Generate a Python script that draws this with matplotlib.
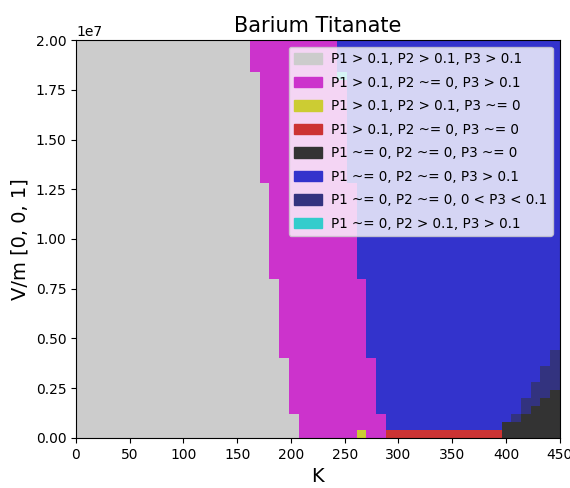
import numpy as np
import matplotlib
matplotlib.use('Agg')
import matplotlib.pyplot as plt
from matplotlib.colors import ListedColormap
from matplotlib.patches import Patch

# phase labels and colours, in index order
labels = ['P1 > 0.1, P2 > 0.1, P3 > 0.1',
          'P1 > 0.1, P2 ~= 0, P3 > 0.1',
          'P1 > 0.1, P2 > 0.1, P3 ~= 0',
          'P1 > 0.1, P2 ~= 0, P3 ~= 0',
          'P1 ~= 0, P2 ~= 0, P3 ~= 0',
          'P1 ~= 0, P2 ~= 0, P3 > 0.1',
          'P1 ~= 0, P2 ~= 0, 0 < P3 < 0.1',
          'P1 ~= 0, P2 > 0.1, P3 > 0.1']
colors = ['#cccccc', '#cc33cc', '#cccc33', '#cc3333',
          '#333333', '#3333cc', '#33337f', '#33cccc']

# temperature / field grid
T = np.linspace(0, 450, 51)
E = np.linspace(0, 2e7, 51)

# field bands (V/m) and the temperature where each phase stops in that band
band_E = [0, 1.2e6, 4.0e6, 8.0e6, 1.28e7, 1.84e7, 2.0e7]
gray_end = [207, 198, 189, 180, 171, 162]
magenta_end = [288, 279, 270, 261, 252, 243]

# single low-field features
yellow_T = [261, 270]
yellow_E = [0, 4e5]
red_T = [288, 396]
red_E = [0, 4e5]
cyan_T = [243, 252]
cyan_E = [1.8e7, 1.84e7]

# high temperature columns: top of the ~0 region and of the 0<P3<0.1 region
hot_T = [396, 405, 414, 423, 432, 441]
black_top = [0.8e6, 0.8e6, 1.2e6, 1.6e6, 2.0e6, 2.4e6]
navy_top = [0.8e6, 1.2e6, 2.0e6, 2.8e6, 3.6e6, 4.4e6]

Tc = (T[:-1] + T[1:]) / 2
Ec = (E[:-1] + E[1:]) / 2
TT, EE = np.meshgrid(Tc, Ec)

phase = np.full(TT.shape, 5)
for i in range(len(gray_end)):
    band = (EE > band_E[i]) & (EE < band_E[i+1])
    phase[band & (TT < magenta_end[i])] = 1
    phase[band & (TT < gray_end[i])] = 0

def box(tr, er):
    return (TT > tr[0]) & (TT < tr[1]) & (EE > er[0]) & (EE < er[1])

phase[box(yellow_T, yellow_E)] = 2
phase[box(red_T, red_E)] = 3
phase[box(cyan_T, cyan_E)] = 7
for t0, b, n in zip(hot_T, black_top, navy_top):
    col = (TT > t0) & (TT < t0 + 9)
    phase[col & (EE < n)] = 6
    phase[col & (EE < b)] = 4

fig = plt.figure(figsize=(5.7, 4.88), dpi=100)
ax = fig.add_axes([0.1333, 0.1025, 0.8487, 0.8155])
ax.pcolormesh(T, E, phase, cmap=ListedColormap(colors), vmin=-0.5, vmax=7.5)

ax.set_xlim(0, 450)
ax.set_ylim(0, 2e7)
ax.set_xticks(np.arange(0, 451, 50))
ax.set_yticks(np.linspace(0, 2e7, 9))
ax.set_title('Barium Titanate', fontsize=15)
ax.set_xlabel('K', fontsize=14)
ax.set_ylabel('V/m [0, 0, 1]', fontsize=14)

handles = [Patch(color=c, label=l) for c, l in zip(colors, labels)]
ax.legend(handles=handles, loc='upper right', fontsize=9.75,
          handlelength=2.05, handleheight=0.82, handletextpad=0.7,
          labelspacing=0.70)

fig.savefig('out.png')
